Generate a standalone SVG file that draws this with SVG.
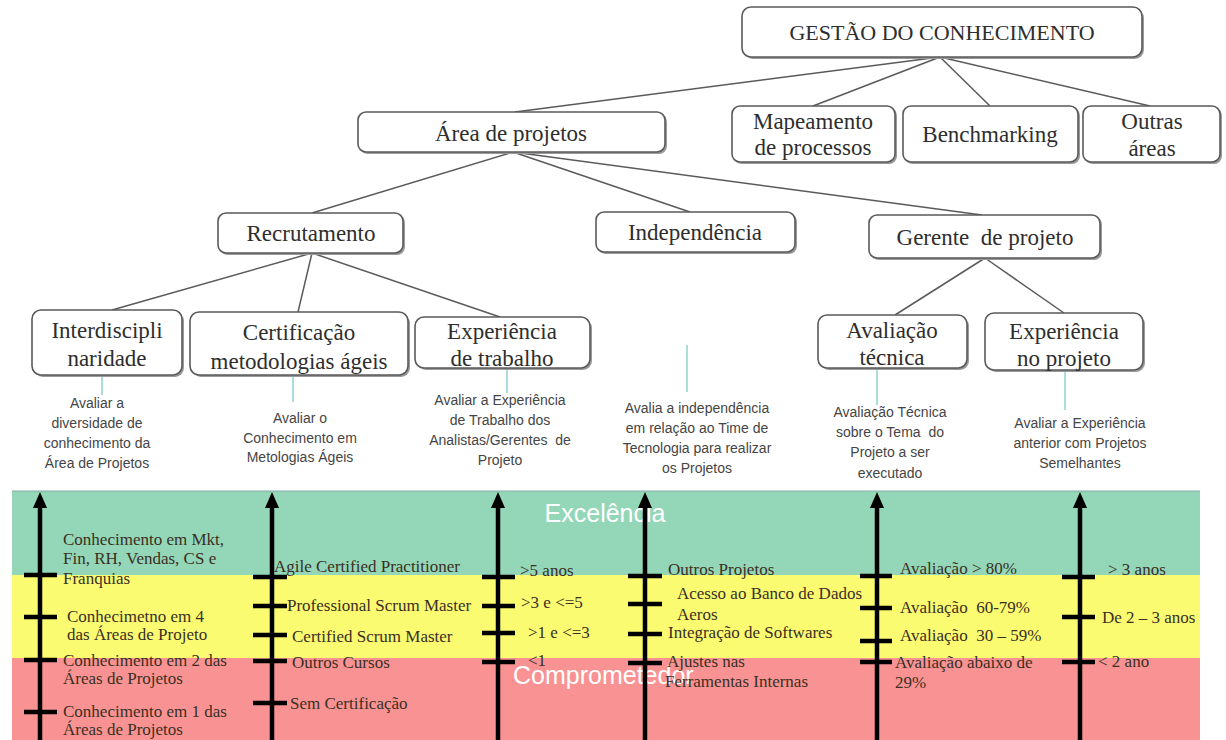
<svg xmlns="http://www.w3.org/2000/svg" width="1226" height="740" viewBox="0 0 1226 740">
<style>
.box{fill:#fff;stroke:#5a5a5a;stroke-width:1.6}
.sh{fill:#9a9a9a}
.nt{font-family:"Liberation Serif",serif;font-size:23px;fill:#2e2e2e;text-anchor:middle}
.ds{font-family:"Liberation Sans",Arial,sans-serif;font-size:14px;fill:#454545;text-anchor:middle}
.bt{font-family:"Liberation Serif",serif;font-size:17px;fill:#3a2f22}
.lbl{font-family:"Liberation Sans",Arial,sans-serif;font-size:25px;fill:#ffffff}
.cn{stroke:#5a5a5a;stroke-width:1.5;fill:none}
.tl{stroke:#8fd2cf;stroke-width:1.5}
.ax{stroke:#000;stroke-width:4.5;marker-end:url(#ah)}
.tk{stroke:#000;stroke-width:4.5}
</style>
<defs>
<marker id="ah" viewBox="0 0 16 14" refX="2" refY="7" markerWidth="16" markerHeight="14" markerUnits="userSpaceOnUse" orient="auto"><path d="M0,0 L16,7 L0,14 z" fill="#000"/></marker>
</defs>
<rect width="1226" height="740" fill="#fff"/>

<!-- scale band -->
<g id="band">
<rect x="12" y="491" width="1188" height="84" fill="#93d7b8"/>
<rect x="12" y="575" width="1188" height="83" fill="#fbfb72"/>
<rect x="12" y="658" width="1188" height="82" fill="#f99393"/>
<line x1="12" y1="491" x2="1200" y2="491" stroke="#8aa" stroke-width="1"/>
<text class="lbl" x="605" y="522" text-anchor="middle">Excelência</text>
<text class="lbl" x="513" y="684">Comprometedor</text>
</g>

<!-- connectors -->
<g id="connectors">
<line class="cn" x1="940" y1="57" x2="515" y2="112"/>
<line class="cn" x1="940" y1="57" x2="813" y2="106"/>
<line class="cn" x1="940" y1="57" x2="990" y2="106"/>
<line class="cn" x1="940" y1="57" x2="1150" y2="106"/>
<line class="cn" x1="513" y1="152" x2="312" y2="213"/>
<line class="cn" x1="513" y1="152" x2="690" y2="212"/>
<line class="cn" x1="513" y1="152" x2="982" y2="215"/>
<line class="cn" x1="312" y1="253" x2="112" y2="310"/>
<line class="cn" x1="312" y1="253" x2="298" y2="312"/>
<line class="cn" x1="312" y1="253" x2="500" y2="317"/>
<line class="cn" x1="985" y1="258" x2="895" y2="315"/>
<line class="cn" x1="985" y1="258" x2="1064" y2="313"/>
<line class="tl" x1="102" y1="375" x2="102" y2="395"/>
<line class="tl" x1="293" y1="375" x2="293" y2="402"/>
<line class="tl" x1="507" y1="368" x2="507" y2="393"/>
<line class="tl" x1="687" y1="345" x2="687" y2="392"/>
<line class="tl" x1="877" y1="368" x2="877" y2="405"/>
<line class="tl" x1="1065" y1="370" x2="1065" y2="410"/>
<!-- axes -->
<line class="ax" x1="40" y1="740" x2="40" y2="506"/>
<line class="ax" x1="272" y1="740" x2="272" y2="506"/>
<line class="ax" x1="498" y1="740" x2="498" y2="506"/>
<line class="ax" x1="645" y1="740" x2="645" y2="506"/>
<line class="ax" x1="877" y1="740" x2="877" y2="506"/>
<line class="ax" x1="1080" y1="740" x2="1080" y2="506"/>
<!-- ticks -->
<line class="tk" x1="24" y1="575" x2="57" y2="575"/>
<line class="tk" x1="24" y1="617" x2="57" y2="617"/>
<line class="tk" x1="24" y1="660" x2="57" y2="660"/>
<line class="tk" x1="24" y1="712" x2="57" y2="712"/>
<line class="tk" x1="253" y1="577" x2="287" y2="577"/>
<line class="tk" x1="253" y1="606" x2="287" y2="606"/>
<line class="tk" x1="253" y1="635" x2="287" y2="635"/>
<line class="tk" x1="253" y1="661" x2="287" y2="661"/>
<line class="tk" x1="253" y1="703" x2="287" y2="703"/>
<line class="tk" x1="482" y1="577" x2="515" y2="577"/>
<line class="tk" x1="482" y1="606" x2="515" y2="606"/>
<line class="tk" x1="482" y1="633" x2="515" y2="633"/>
<line class="tk" x1="482" y1="662" x2="515" y2="662"/>
<line class="tk" x1="628" y1="576" x2="662" y2="576"/>
<line class="tk" x1="628" y1="604" x2="662" y2="604"/>
<line class="tk" x1="628" y1="634" x2="662" y2="634"/>
<line class="tk" x1="628" y1="663" x2="662" y2="663"/>
<line class="tk" x1="860" y1="576" x2="892" y2="576"/>
<line class="tk" x1="860" y1="608" x2="892" y2="608"/>
<line class="tk" x1="860" y1="641" x2="892" y2="641"/>
<line class="tk" x1="860" y1="662" x2="892" y2="662"/>
<line class="tk" x1="1062" y1="577" x2="1095" y2="577"/>
<line class="tk" x1="1062" y1="617" x2="1095" y2="617"/>
<line class="tk" x1="1062" y1="662" x2="1095" y2="662"/>
</g>

<!-- tree nodes -->
<g id="gestao">
<rect class="sh" x="744" y="9" width="400" height="50" rx="9"/>
<rect class="box" x="742" y="7" width="400" height="50" rx="9"/>
<text class="nt" x="942" y="40" style="font-size:22px">GESTÃO DO CONHECIMENTO</text>
</g>
<g id="mapeamento">
<rect class="sh" x="734" y="108" width="163" height="56" rx="8"/>
<rect class="box" x="732" y="106" width="163" height="56" rx="8"/>
<text class="nt" x="813" y="129">Mapeamento</text>
<text class="nt" x="813" y="155">de processos</text>
</g>
<g id="benchmarking">
<rect class="sh" x="905" y="108" width="175" height="56" rx="8"/>
<rect class="box" x="903" y="106" width="175" height="56" rx="8"/>
<text class="nt" x="990" y="142">Benchmarking</text>
</g>
<g id="outras">
<rect class="sh" x="1085" y="108" width="137" height="56" rx="8"/>
<rect class="box" x="1083" y="106" width="137" height="56" rx="8"/>
<text class="nt" x="1152" y="129">Outras</text>
<text class="nt" x="1152" y="156">áreas</text>
</g>
<g id="area">
<rect class="sh" x="360" y="114" width="307" height="40" rx="8"/>
<rect class="box" x="358" y="112" width="307" height="40" rx="8"/>
<text class="nt" x="511" y="141">Área de projetos</text>
</g>
<g id="recrutamento">
<rect class="sh" x="220" y="215" width="185" height="40" rx="8"/>
<rect class="box" x="218" y="213" width="185" height="40" rx="8"/>
<text class="nt" x="311" y="241">Recrutamento</text>
</g>
<g id="independencia">
<rect class="sh" x="598" y="214" width="199" height="40" rx="8"/>
<rect class="box" x="596" y="212" width="199" height="40" rx="8"/>
<text class="nt" x="695" y="240">Independência</text>
</g>
<g id="gerente">
<rect class="sh" x="871" y="217" width="231" height="43" rx="8"/>
<rect class="box" x="869" y="215" width="231" height="43" rx="8"/>
<text class="nt" x="985" y="245" xml:space="preserve">Gerente  de projeto</text>
</g>
<g id="interdisciplinaridade">
<rect class="sh" x="34" y="312" width="150" height="65" rx="9"/>
<rect class="box" x="32" y="310" width="150" height="65" rx="9"/>
<text class="nt" x="107" y="338">Interdiscipli</text>
<text class="nt" x="107" y="366">naridade</text>
<text class="ds" x="97" y="408">Avaliar a</text>
<text class="ds" x="97" y="428">diversidade de</text>
<text class="ds" x="97" y="448">conhecimento da</text>
<text class="ds" x="97" y="468">Área de Projetos</text>
</g>
<g id="certificacao">
<rect class="sh" x="192" y="314" width="218" height="63" rx="9"/>
<rect class="box" x="190" y="312" width="218" height="63" rx="9"/>
<text class="nt" x="299" y="340">Certificação</text>
<text class="nt" x="299" y="369">metodologias ágeis</text>
<text class="ds" x="300" y="423">Avaliar o</text>
<text class="ds" x="300" y="443">Conhecimento em</text>
<text class="ds" x="300" y="462">Metologias  Ágeis</text>
</g>
<g id="experiencia-trabalho">
<rect class="sh" x="417" y="319" width="175" height="51" rx="9"/>
<rect class="box" x="415" y="317" width="175" height="51" rx="9"/>
<text class="nt" x="502" y="339">Experiência</text>
<text class="nt" x="502" y="366">de trabalho</text>
<text class="ds" x="500" y="405">Avaliar a Experiência</text>
<text class="ds" x="500" y="425">de Trabalho dos</text>
<text class="ds" x="500" y="445" xml:space="preserve">Analistas/Gerentes  de</text>
<text class="ds" x="500" y="465">Projeto</text>
</g>
<g id="independencia-desc">
<text class="ds" x="697" y="413">Avalia a independência</text>
<text class="ds" x="697" y="433">em relação ao Time de</text>
<text class="ds" x="697" y="453">Tecnologia para realizar</text>
<text class="ds" x="697" y="473">os Projetos</text>
</g>
<g id="avaliacao-tecnica">
<rect class="sh" x="820" y="317" width="149" height="53" rx="9"/>
<rect class="box" x="818" y="315" width="149" height="53" rx="9"/>
<text class="nt" x="892" y="338">Avaliação</text>
<text class="nt" x="892" y="365">técnica</text>
<text class="ds" x="890" y="417">Avaliação Técnica</text>
<text class="ds" x="890" y="437" xml:space="preserve">sobre o Tema  do</text>
<text class="ds" x="890" y="457">Projeto a ser</text>
<text class="ds" x="890" y="478">executado</text>
</g>
<g id="experiencia-projeto">
<rect class="sh" x="987" y="315" width="158" height="57" rx="9"/>
<rect class="box" x="985" y="313" width="158" height="57" rx="9"/>
<text class="nt" x="1064" y="339">Experiência</text>
<text class="nt" x="1064" y="366">no projeto</text>
<text class="ds" x="1080" y="428">Avaliar a Experiência</text>
<text class="ds" x="1080" y="448">anterior com Projetos</text>
<text class="ds" x="1080" y="468">Semelhantes</text>
</g>

<!-- scale texts -->
<g id="scale-interdisciplinaridade">
<text class="bt" x="63" y="545">Conhecimento em Mkt,</text>
<text class="bt" x="63" y="564">Fin, RH, Vendas, CS e</text>
<text class="bt" x="63" y="584">Franquias</text>
<text class="bt" x="67" y="622">Conhecimetno em 4</text>
<text class="bt" x="67" y="640">das Áreas de Projeto</text>
<text class="bt" x="63" y="666">Conhecimento em 2 das</text>
<text class="bt" x="63" y="684">Áreas de Projetos</text>
<text class="bt" x="63" y="717">Conhecimento em 1 das</text>
<text class="bt" x="63" y="735">Áreas de Projetos</text>
</g>
<g id="scale-certificacao">
<text class="bt" x="274" y="572">Agile Certified Practitioner</text>
<text class="bt" x="287" y="611">Professional Scrum Master</text>
<text class="bt" x="292" y="642">Certified Scrum Master</text>
<text class="bt" x="292" y="668">Outros Cursos</text>
<text class="bt" x="290" y="709">Sem Certificação</text>
</g>
<g id="scale-experiencia">
<text class="bt" x="520" y="576">&gt;5 anos</text>
<text class="bt" x="521" y="608">&gt;3 e &lt;=5</text>
<text class="bt" x="528" y="638">&gt;1 e &lt;=3</text>
<text class="bt" x="528" y="666">&lt;1</text>
</g>
<g id="scale-independencia">
<text class="bt" x="668" y="575">Outros Projetos</text>
<text class="bt" x="677" y="599">Acesso ao Banco de Dados</text>
<text class="bt" x="677" y="620">Aeros</text>
<text class="bt" x="668" y="638">Integração de Softwares</text>
<text class="bt" x="667" y="667">Ajustes nas</text>
<text class="bt" x="665" y="687">Ferramentas Internas</text>
</g>
<g id="scale-avaliacao">
<text class="bt" x="900" y="574">Avaliação &gt; 80%</text>
<text class="bt" x="900" y="613" xml:space="preserve">Avaliação  60-79%</text>
<text class="bt" x="900" y="641" xml:space="preserve">Avaliação  30 – 59%</text>
<text class="bt" x="895" y="668">Avaliação abaixo de</text>
<text class="bt" x="895" y="688">29%</text>
</g>
<g id="scale-experiencia-projeto">
<text class="bt" x="1108" y="575">&gt; 3 anos</text>
<text class="bt" x="1102" y="623">De 2 – 3 anos</text>
<text class="bt" x="1098" y="667">&lt; 2 ano</text>
</g>
</svg>
